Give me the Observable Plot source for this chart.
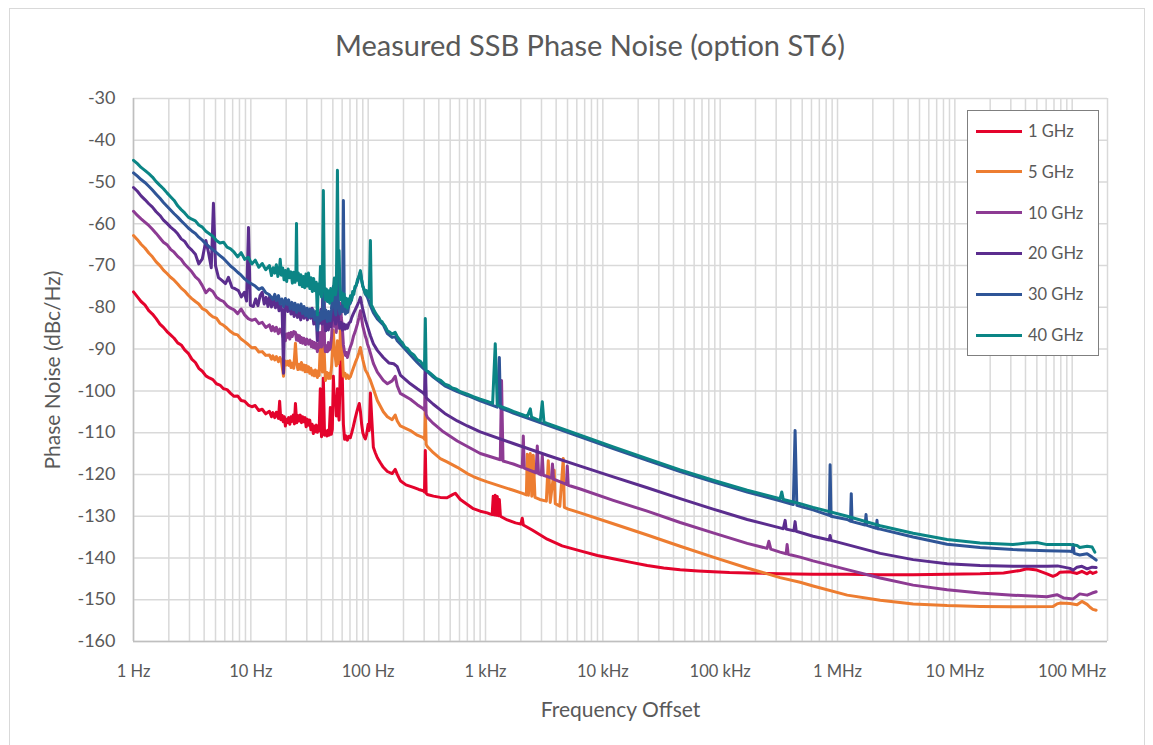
<!DOCTYPE html>
<html>
<head>
<meta charset="utf-8">
<script src="https://cdn.jsdelivr.net/npm/d3@7"></script>
<script src="https://cdn.jsdelivr.net/npm/@observablehq/plot@0.6"></script>
<style>
  body { margin: 0; background: #fff; font-family: Lato, "Open Sans", sans-serif; }
  #wrap { position: relative; width: 1153px; height: 745px; overflow: hidden; }
  #frame { position: absolute; left: 9px; top: 8px; width: 1136px; height: 760px; border: 1px solid #d9d9d9; box-sizing: border-box; }
  #chart { position: absolute; left: 0; top: 0; }
  #title { position: absolute; left: 0; top: 27px; width: 1180px; text-align: center; font-size: 29px; color: #595959; }
  #legend { position: absolute; left: 967px; top: 110px; width: 132px; height: 246px; border: 1.5px solid #7f7f7f; background: #fff; box-sizing: border-box; }
  .item { position: absolute; left: 0; height: 20px; width: 130px; }
  .sw { position: absolute; left: 8px; top: 8.5px; width: 46px; height: 3px; }
  .lb { position: absolute; left: 60px; top: 0; font-size: 16.5px; line-height: 20px; color: #595959; }
  g[aria-label="x-axis label"] text, g[aria-label="y-axis label"] text { font-size: 21px; }
</style>
</head>
<body>
<div id="wrap">
  <div id="frame"></div>
  <div id="chart"></div>
  <div id="title">Measured SSB Phase Noise (option ST6)</div>
  <div id="legend"></div>
</div>
<script>
// ---------------- data ----------------
const seriesNames = ["1 GHz", "5 GHz", "10 GHz", "20 GHz", "30 GHz", "40 GHz"];
const seriesColors = ["#e4032c", "#ed7d31", "#8d3b93", "#5b2d8e", "#2f5597", "#0b8585"];

const xTicks = [1, 10, 100, 1e3, 1e4, 1e5, 1e6, 1e7, 1e8];
const xTickLabels = ["1 Hz", "10 Hz", "100 Hz", "1 kHz", "10 kHz", "100 kHz", "1 MHz", "10 MHz", "100 MHz"];
const yTicks = [-160, -150, -140, -130, -120, -110, -100, -90, -80, -70, -60, -50, -40, -30];

// [offset frequency (Hz), phase noise (dBc/Hz)]
const red1GHz = [
  [1,-76.3],[1.08,-77.5],[1.16,-78.6],[1.25,-79.4],[1.35,-80.8],[1.45,-81.6],[1.56,-82.7],[1.68,-84.0],[1.8,-84.8],[1.93,-85.8],
  [2.07,-86.6],[2.22,-87.4],[2.38,-88.5],[2.55,-89.0],[2.73,-90.2],[2.93,-91.0],[3.14,-92.4],[3.37,-93.2],[3.6,-94.6],[3.86,-95.3],
  [4.14,-96.4],[4.43,-96.9],[4.75,-97.3],[5.09,-98.3],[5.45,-98.6],[5.85,-99.5],[6.27,-99.7],[6.72,-100.6],[7.2,-101.3],[7.72,-101.2],
  [8.27,-102.3],[8.86,-102.5],[9.5,-103.4],[10.2,-103.8],[10.9,-103.5],[11.7,-104.7],[12.5,-104.4],[13.4,-105.5],[14.4,-104.9],[15.0,-106.2],
  [15.4,-105.2],[16.0,-106.4],[16.5,-105.1],[17.2,-106.6],[17.6,-102.5],[18.0,-106.9],[18.5,-105.9],[18.9,-107.4],[19.3,-106.2],[19.7,-108.4],
  [20.1,-106.8],[20.5,-107.6],[21.0,-106.4],[21.5,-108.0],[22.0,-106.2],[22.5,-107.3],[23.0,-105.8],[23.5,-107.9],[24.0,-103.0],[24.6,-107.6],
  [25.2,-105.9],[25.8,-107.2],[26.4,-105.8],[27.0,-107.6],[27.6,-106.2],[28.3,-107.4],[29.0,-106.4],[29.6,-108.6],[30.3,-106.8],[31.0,-108.2],
  [31.8,-107.0],[32.5,-109.3],[33.3,-108.0],[34.1,-110.2],[34.8,-108.4],[35.5,-109.8],[36.2,-108.2],[36.9,-109.9],[37.5,-108.4],[38.2,-109.6],
  [39.1,-99.5],[40.0,-111.0],[40.8,-109.4],[41.5,-97.0],[42.5,-110.6],[43.5,-109.6],[44.5,-110.8],[45.5,-109.4],[46.5,-110.6],[47.6,-104.0],
  [48.5,-110.4],[49.5,-109.2],[50.5,-96.5],[51.5,-102.5],[52.5,-101.5],[53.5,-106.0],[54.7,-99.5],[55.5,-104.5],[56.5,-107.0],[57.3,-100.0],
  [58.0,-92.0],[59.0,-99.0],[60.0,-95.0],[61.5,-108.0],[63,-111.6],[64.7,-110.8],[66.5,-111.8],[68.5,-110.9],[70.5,-111.2],[72.5,-110.0],
  [74.8,-108.5],[77.5,-106.6],[80.9,-104.5],[84,-103.0],[86,-105.0],[88,-108.0],[90,-110.0],[92.5,-111.0],[94.7,-111.5],[97,-110.4],
  [100,-108.0],[102,-109.5],[104.5,-100.5],[107,-106.0],[110.7,-113.5],[115,-114.8],[119.7,-116.0],[127,-117.2],[134.6,-118.3],[145.8,-119.3],
  [160,-119.8],[170,-118.8],[177,-120.0],[188,-121.5],[210,-122.5],[243,-123.1],[270,-123.6],[295,-123.9],[302,-124.2],[307,-114.3],
  [312,-124.5],[319,-124.8],[360,-125.2],[412,-125.5],[470,-125.6],[520,-124.9],[553,-124.5],[610,-126.0],[700,-127.2],[787,-128.2],
  [903,-128.8],[1035,-129.2],[1100,-129.5],[1140,-129.6],[1164,-125.2],[1190,-129.7],[1211,-125.0],[1236,-129.8],[1260,-125.3],[1290,-129.9],
  [1312,-126.0],[1340,-130.0],[1400,-130.3],[1534,-130.9],[1800,-131.6],[2000,-131.9],[2058,-130.5],[2100,-132.1],[2500,-133.3],[3359,-135.5],
  [4500,-137.1],[6423,-138.3],[9000,-139.4],[12270,-140.2],[17000,-141.0],[23900,-141.8],[33000,-142.4],[45600,-142.8],[65000,-143.1],[87100,-143.3],
  [120000,-143.5],[170000,-143.6],[250000,-143.7],[324000,-143.8],[619000,-143.9],[1.21e6,-143.9],[2.31e6,-144.0],[4.41e6,-144.0],[8.59e6,-143.9],[1.64e7,-143.8],
  [2.6e7,-143.6],[3.6e7,-143.0],[4.12e7,-142.6],[5.0e7,-142.9],[6.1e7,-143.8],[6.86e7,-144.4],[7.42e7,-144.0],[7.87e7,-143.4],[9.58e7,-143.3],[1.1e8,-143.7],
  [1.21e8,-143.2],[1.34e8,-143.8],[1.42e8,-143.3],[1.5e8,-143.7],[1.6e8,-143.4]
];

const orange5GHz = [
  [1,-62.8],[1.08,-63.8],[1.16,-64.9],[1.25,-65.8],[1.35,-67.0],[1.45,-67.9],[1.56,-69.1],[1.68,-70.0],[1.8,-71.1],[1.93,-71.9],
  [2.07,-72.8],[2.22,-73.5],[2.38,-74.4],[2.55,-75.4],[2.73,-76.1],[2.93,-77.1],[3.14,-77.9],[3.37,-78.6],[3.6,-79.2],[3.86,-80.3],
  [4.14,-80.7],[4.43,-81.6],[4.75,-82.3],[5.09,-82.6],[5.45,-83.8],[5.85,-84.3],[6.27,-85.0],[6.72,-85.8],[7.2,-86.4],[7.72,-86.6],
  [8.27,-87.6],[8.86,-88.2],[9.5,-88.9],[10.2,-89.7],[10.9,-89.6],[11.7,-90.7],[12.5,-90.6],[13.4,-91.5],[14.4,-91.4],[15.0,-92.4],
  [15.4,-91.6],[16.0,-92.6],[16.5,-91.8],[17.2,-93.0],[17.7,-92.0],[18.2,-92.8],[19.0,-96.5],[19.4,-92.8],[20.0,-93.8],[20.5,-92.9],
  [21.0,-93.9],[21.5,-92.8],[22.0,-94.4],[22.5,-93.4],[23.2,-94.6],[24.0,-88.6],[24.6,-93.5],[25.2,-94.9],[25.8,-93.6],[26.4,-94.8],
  [27.0,-93.2],[27.6,-95.0],[28.3,-93.8],[29.0,-95.4],[29.6,-93.9],[30.3,-95.4],[31.0,-94.2],[31.8,-95.8],[32.5,-94.6],[33.3,-96.2],
  [34.1,-95.2],[34.8,-96.4],[35.5,-95.0],[36.2,-96.2],[36.9,-96.8],[37.5,-95.2],[38.2,-96.3],[39.1,-89.0],[40,-92.5],[40.8,-95.5],
  [41.5,-84.0],[42.5,-93.0],[43.2,-97.5],[44.5,-95.6],[45.8,-97.0],[46.7,-95.8],[47.6,-97.0],[48.8,-94.0],[50.5,-85.5],[51.5,-90.5],
  [52.5,-92.0],[53.5,-94.0],[54.7,-88.0],[55.6,-93.5],[56.5,-90.0],[57.3,-92.5],[58.0,-83.9],[59.0,-88.0],[60,-90.0],[61.5,-96.5],
  [63.5,-95.8],[65,-97.0],[66.5,-96.2],[68.5,-97.0],[70.5,-96.6],[72.5,-95.6],[74.8,-94.5],[77.5,-93.3],[80.9,-92.0],[83.5,-90.8],
  [85.9,-89.6],[88,-91.2],[90,-92.5],[92.5,-93.9],[94.7,-95.0],[96.5,-95.4],[98.5,-95.8],[101,-96.6],[104.5,-97.5],[110.7,-99.5],
  [119.7,-102.3],[134.6,-105.0],[145.8,-106.2],[160,-106.9],[170,-105.8],[177,-107.2],[188,-108.4],[229,-109.5],[262,-110.6],[295,-111.2],
  [303,-111.6],[307,-104.0],[312,-112.8],[319,-113.3],[359,-114.8],[412,-116.2],[470,-117.0],[575,-118.3],[700,-119.8],[787,-120.5],
  [903,-121.2],[1035,-121.8],[1336,-122.8],[1726,-123.8],[2099,-124.6],[2230,-124.9],[2270,-115.2],[2320,-125.0],[2409,-115.0],[2480,-125.2],
  [2553,-115.4],[2640,-125.5],[2900,-126.0],[3300,-126.4],[3427,-116.7],[3560,-126.7],[3850,-119.0],[3930,-127.0],[4300,-127.6],[4600,-116.2],
  [4700,-127.9],[5072,-128.3],[6423,-129.2],[12270,-131.8],[23900,-134.5],[45600,-137.2],[87100,-139.8],[170000,-142.4],[324000,-144.7],[480000,-145.8],
  [619000,-146.7],[1.21e6,-148.9],[2.31e6,-150.1],[4.41e6,-151.0],[8.59e6,-151.4],[1.64e7,-151.6],[3.13e7,-151.7],[6.86e7,-151.6],[7.42e7,-151.0],[7.87e7,-150.8],
  [9.58e7,-150.9],[1.1e8,-151.2],[1.21e8,-150.4],[1.34e8,-151.1],[1.42e8,-151.8],[1.5e8,-152.3],[1.6e8,-152.5]
];

const purple10GHz = [
  [1,-57.0],[1.08,-58.0],[1.16,-58.8],[1.25,-59.6],[1.35,-60.4],[1.45,-61.3],[1.56,-62.3],[1.68,-63.4],[1.8,-64.4],[1.93,-65.0],
  [2.07,-66.1],[2.22,-66.8],[2.38,-67.8],[2.55,-68.5],[2.73,-69.7],[2.93,-70.6],[3.14,-71.5],[3.37,-72.7],[3.6,-73.4],[3.86,-74.8],
  [4.14,-76.5],[4.43,-75.6],[4.75,-76.2],[5.09,-77.6],[5.45,-78.2],[5.85,-78.6],[6.27,-79.6],[6.72,-80.2],[7.2,-80.6],[7.72,-81.5],
  [8.27,-80.4],[8.86,-81.8],[9.5,-82.7],[10.2,-83.1],[10.9,-82.8],[11.7,-83.9],[12.5,-83.6],[13.4,-84.8],[14.4,-84.2],[15.0,-85.6],
  [15.4,-84.6],[16.0,-85.7],[16.5,-84.8],[17.2,-86.3],[17.7,-85.2],[18.2,-85.8],[19.0,-87.4],[19.7,-88.0],[20.1,-86.4],[20.5,-87.2],
  [21.0,-86.2],[21.5,-87.6],[22.0,-86.0],[22.5,-87.0],[23.2,-85.8],[24.0,-86.0],[24.5,-87.8],[25.0,-86.6],[25.5,-88.0],[26.0,-86.8],
  [26.5,-88.4],[27.0,-87.2],[27.6,-88.6],[28.3,-87.4],[29.2,-88.9],[30.0,-87.6],[31,-88.8],[31.9,-87.8],[32.8,-89.4],[33.4,-88.2],
  [34.1,-89.6],[34.8,-88.4],[35.5,-89.8],[36.2,-88.6],[36.9,-90.6],[37.5,-88.8],[38.2,-89.6],[39.1,-86.0],[40,-89.5],[40.8,-87.6],
  [41.5,-71.2],[42.5,-88.8],[43.2,-90.6],[44,-89.2],[45,-90.6],[45.8,-88.4],[46.7,-90.2],[47.6,-89.7],[48.8,-87.0],[50.5,-77.6],
  [51.5,-84.5],[52.5,-83.0],[53.5,-86.0],[54.7,-76.5],[55.6,-82.0],[56.5,-85.0],[57.3,-82.0],[58,-79.0],[59,-82.5],[60,-84.0],
  [61.5,-89.0],[62.8,-90.6],[64,-91.5],[65.2,-90.8],[66.5,-92.0],[68.5,-90.6],[70.5,-89.5],[72.5,-88.6],[74.8,-87.0],[77.5,-85.8],
  [80.9,-84.0],[83.5,-82.4],[85.9,-80.8],[88,-82.8],[90,-84.5],[92.5,-85.8],[94.7,-87.0],[96.5,-87.6],[98.5,-88.7],[101,-89.6],
  [104.5,-91.0],[110.7,-93.4],[119.7,-95.5],[134.6,-97.5],[145.8,-98.3],[160,-97.6],[170,-96.5],[177,-98.8],[188,-100.6],[229,-102.0],
  [262,-103.3],[295,-104.3],[303,-104.6],[307,-96.0],[312,-105.6],[319,-106.3],[359,-107.8],[437,-109.8],[575,-112.0],[903,-115.0],
  [1336,-116.5],[1370,-97.5],[1410,-116.8],[1726,-117.5],[2058,-118.3],[2099,-110.8],[2140,-118.5],[2700,-119.6],[2763,-113.2],[2830,-119.8],
  [2990,-120.1],[3048,-115.5],[3110,-120.2],[3359,-120.5],[3650,-120.9],[3720,-117.5],[3800,-121.1],[4900,-122.4],[4977,-118.0],[5072,-122.6],
  [6423,-123.5],[12270,-126.2],[23900,-128.8],[45600,-131.5],[87100,-134.0],[170000,-136.5],[251000,-137.7],[260000,-136.0],[270000,-137.9],[324000,-138.6],
  [365000,-139.0],[372000,-136.8],[380000,-139.1],[480000,-139.8],[619000,-140.7],[1.21e6,-142.8],[2.31e6,-144.8],[4.41e6,-146.5],[8.59e6,-147.6],[1.64e7,-148.4],
  [3.13e7,-148.9],[6.1e7,-149.3],[7.42e7,-148.8],[8.5e7,-149.6],[1.02e8,-149.8],[1.16e8,-148.6],[1.34e8,-148.9],[1.48e8,-148.4],[1.6e8,-148.1]
];

const purple20GHz = [
  [1,-51.3],[1.08,-52.2],[1.16,-53.3],[1.25,-54.2],[1.35,-55.2],[1.45,-56.0],[1.56,-57.1],[1.68,-58.0],[1.8,-59.1],[1.93,-59.9],
  [2.07,-60.8],[2.22,-61.5],[2.38,-62.4],[2.55,-63.6],[2.73,-64.2],[2.93,-65.5],[3.14,-66.3],[3.37,-67.3],[3.6,-69.6],[3.86,-68.4],
  [4.14,-64.0],[4.35,-66.8],[4.6,-70.5],[4.8,-55.1],[5.0,-70.0],[5.3,-72.9],[5.7,-73.6],[6.08,-74.3],[6.44,-72.8],[6.9,-75.2],
  [7.4,-75.6],[7.84,-76.0],[8.3,-77.5],[8.8,-76.4],[9.2,-78.5],[9.55,-60.9],[9.9,-79.5],[10.5,-79.8],[11.0,-78.0],[11.5,-79.6],
  [12.0,-77.2],[12.5,-76.4],[13.0,-79.2],[13.5,-77.6],[14.0,-79.8],[14.5,-77.2],[15.0,-79.9],[15.6,-78.2],[16.2,-80.1],[16.8,-78.4],
  [17.4,-80.8],[18.0,-79.6],[18.5,-81.2],[19.0,-95.8],[19.4,-80.3],[20.0,-79.0],[20.6,-81.0],[21.3,-79.4],[22.0,-81.6],[22.7,-80.0],
  [23.4,-82.2],[24.2,-80.2],[25.0,-82.4],[25.8,-80.6],[26.6,-83.0],[27.5,-81.0],[28.4,-82.6],[29.3,-80.4],[30.3,-83.0],[31.3,-80.8],
  [32.3,-82.6],[33.3,-80.2],[34.4,-84.0],[35.5,-81.6],[36.4,-84.5],[36.9,-88.0],[37.5,-81.5],[38.5,-83.8],[39.5,-80.5],[40.5,-84.0],
  [41.5,-71.7],[42.5,-83.0],[43.5,-85.6],[44.5,-83.0],[45.8,-85.4],[47.0,-82.6],[48.2,-84.6],[49.4,-82.0],[50.5,-78.0],[51.6,-82.8],
  [52.8,-84.0],[54.7,-79.0],[56.0,-83.2],[57.5,-85.0],[59.0,-83.6],[60.5,-85.4],[62.0,-84.0],[63.5,-85.2],[65.0,-84.2],[66.5,-85.0],
  [68.5,-83.8],[70.5,-83.5],[72.5,-82.4],[74.8,-81.5],[77.5,-80.6],[80.9,-79.5],[83.5,-78.6],[85.9,-77.6],[88,-79.2],[90,-80.5],
  [94.7,-83.0],[98.5,-84.5],[104.5,-86.8],[110.7,-88.7],[119.7,-90.3],[134.6,-92.0],[150,-93.3],[165,-93.5],[177,-94.2],[188,-96.2],
  [229,-98.3],[262,-99.5],[295,-100.5],[303,-100.9],[307,-92.5],[312,-101.6],[319,-101.9],[359,-103.2],[450,-105.4],[575,-107.2],
  [700,-108.4],[903,-109.8],[1726,-112.6],[3359,-115.4],[6423,-118.0],[12270,-120.6],[23900,-123.2],[45600,-125.8],[87100,-128.3],[170000,-130.8],
  [324000,-132.8],[345000,-133.0],[358000,-131.0],[365000,-133.1],[425000,-133.5],[435000,-131.3],[445000,-133.6],[619000,-134.8],[850000,-135.7],[865000,-134.6],
  [880000,-135.8],[1.21e6,-136.8],[2.31e6,-138.9],[4.41e6,-140.4],[8.59e6,-141.4],[1.64e7,-141.8],[3.13e7,-142.0],[6.1e7,-142.0],[7.5e7,-141.9],[9.58e7,-142.5],
  [1.02e8,-142.9],[1.1e8,-142.2],[1.21e8,-142.0],[1.34e8,-142.6],[1.48e8,-142.2],[1.6e8,-142.3]
];

const blue30GHz = [
  [1,-47.8],[1.08,-48.6],[1.16,-49.4],[1.25,-50.1],[1.35,-51.0],[1.45,-51.9],[1.56,-52.9],[1.68,-53.9],[1.8,-54.9],[1.93,-55.8],
  [2.07,-56.7],[2.22,-57.6],[2.38,-58.4],[2.55,-59.3],[2.73,-60.1],[2.93,-61.0],[3.14,-61.7],[3.37,-62.3],[3.6,-63.2],[3.86,-63.9],
  [4.14,-64.8],[4.43,-65.5],[4.75,-66.2],[5.09,-66.9],[5.45,-67.6],[5.85,-68.3],[6.27,-69.2],[6.72,-70.1],[7.2,-70.8],[7.72,-71.6],
  [8.27,-72.3],[8.86,-73.2],[9.5,-73.9],[10.2,-74.4],[10.9,-74.9],[11.7,-75.7],[12.5,-75.3],[13.4,-76.5],[14.4,-77.0],[15.4,-78.1],
  [16.0,-76.9],[16.5,-78.4],[17.2,-77.2],[17.8,-79.2],[18.4,-78.0],[19.0,-79.8],[19.7,-77.9],[20.4,-79.3],[21.0,-78.2],[21.7,-80.4],
  [22.4,-78.8],[23.1,-80.6],[23.8,-79.0],[24.5,-81.2],[25.2,-79.4],[26.0,-80.8],[26.8,-79.2],[27.6,-81.5],[28.4,-79.8],[29.3,-82.0],
  [30.2,-80.2],[31.1,-82.4],[32.0,-80.4],[33.0,-82.2],[34.0,-80.6],[35.0,-83.0],[36.0,-81.0],[37.0,-85.5],[38.0,-81.6],[39.0,-83.2],
  [40.0,-80.8],[41.0,-82.8],[41.5,-73.0],[42.2,-82.6],[43.5,-80.6],[44.8,-83.4],[46.0,-81.0],[47.3,-83.2],[48.6,-80.5],[50.5,-75.0],
  [51.8,-80.2],[53.0,-81.8],[54.7,-70.0],[56.0,-79.8],[57.5,-81.6],[59.0,-79.8],[60.5,-81.0],[61.5,-54.4],[62.6,-80.2],[64.0,-81.6],
  [65.5,-79.8],[67.0,-81.2],[68.5,-79.4],[70.5,-79.0],[72.5,-77.8],[74.8,-76.5],[77.5,-75.3],[80.9,-74.0],[83.5,-72.6],[85.9,-71.5],
  [88,-73.4],[90,-74.8],[92.5,-75.9],[94.7,-76.8],[98.5,-77.6],[104.5,-79.6],[110.7,-81.3],[119.7,-82.8],[134.6,-84.2],[145.8,-86.3],
  [160,-87.2],[170,-87.0],[177,-88.0],[188,-88.8],[229,-91.4],[262,-93.2],[295,-94.6],[319,-95.4],[359,-96.7],[450,-98.8],
  [575,-100.2],[700,-101.1],[903,-102.4],[1260,-103.9],[1312,-92.0],[1340,-104.1],[1726,-105.3],[3359,-108.2],[6423,-111.0],[12270,-113.8],
  [23900,-116.6],[45600,-119.3],[87100,-121.8],[170000,-124.2],[324000,-126.3],[420000,-127.2],[435000,-109.5],[450000,-127.4],[619000,-128.5],[850000,-129.8],
  [865000,-117.7],[880000,-130.0],[1.21e6,-130.8],[1.29e6,-131.2],[1.31e6,-124.6],[1.33e6,-131.3],[1.72e6,-132.1],[1.75e6,-129.6],[1.78e6,-132.2],[2.14e6,-132.9],
  [2.17e6,-131.0],[2.2e6,-133.0],[2.31e6,-133.1],[4.41e6,-135.0],[8.59e6,-136.7],[1.64e7,-137.5],[3.13e7,-138.0],[6.1e7,-138.3],[9.58e7,-138.4],[1.0e8,-138.5],
  [1.02e8,-136.8],[1.04e8,-138.9],[1.16e8,-139.3],[1.34e8,-139.0],[1.48e8,-139.8],[1.6e8,-140.5]
];

const teal40GHz = [
  [1,-44.8],[1.08,-45.6],[1.16,-46.5],[1.25,-47.2],[1.35,-48.0],[1.45,-48.8],[1.56,-49.9],[1.68,-50.8],[1.8,-51.6],[1.93,-52.6],
  [2.07,-53.5],[2.22,-54.4],[2.38,-55.7],[2.55,-56.6],[2.73,-57.4],[2.93,-58.4],[3.14,-58.9],[3.37,-59.3],[3.6,-60.3],[3.86,-60.8],
  [4.14,-61.8],[4.43,-62.4],[4.75,-63.0],[5.09,-64.0],[5.45,-64.6],[5.85,-64.4],[6.27,-65.6],[6.72,-66.0],[7.2,-66.8],[7.72,-67.9],
  [8.27,-66.9],[8.86,-68.5],[9.5,-68.0],[10.2,-69.6],[10.9,-68.7],[11.7,-70.4],[12.5,-69.5],[13.4,-71.0],[14.4,-70.0],[15.0,-72.4],
  [15.5,-70.5],[16.0,-71.8],[16.5,-69.8],[17.0,-72.6],[17.5,-71.0],[17.8,-68.5],[18.2,-72.3],[18.7,-70.6],[19.2,-73.4],[19.7,-71.2],
  [20.2,-73.8],[20.8,-70.8],[21.4,-72.9],[22.0,-71.5],[22.6,-74.2],[23.2,-71.6],[23.8,-74.0],[24.2,-72.5],[24.5,-59.9],[24.8,-73.5],
  [25.4,-71.8],[26.0,-74.6],[26.7,-72.2],[27.4,-75.0],[28.1,-72.6],[28.8,-75.3],[29.5,-72.0],[30.3,-74.9],[31.0,-71.8],[31.8,-75.5],
  [32.6,-72.9],[33.4,-76.2],[34.3,-73.1],[35.2,-76.0],[36.1,-74.0],[36.9,-81.8],[37.6,-74.5],[38.5,-76.8],[39.2,-70.2],[40.0,-77.5],
  [40.7,-74.0],[41.5,-52.0],[42.3,-75.2],[43.2,-78.2],[44.0,-75.6],[45.0,-78.6],[46.0,-76.0],[47.0,-79.0],[48.0,-75.5],[49.2,-78.4],
  [50.4,-76.2],[51.5,-73.0],[52.6,-77.0],[53.6,-75.5],[54.7,-47.2],[55.6,-70.0],[56.5,-66.4],[57.3,-74.5],[58.5,-78.2],[59.7,-76.5],
  [61.0,-79.0],[62.3,-76.8],[63.6,-79.8],[65.0,-77.8],[66.4,-80.2],[67.8,-78.0],[69.2,-79.2],[70.7,-77.2],[72.2,-78.3],[73.8,-76.2],
  [75.5,-76.9],[77.2,-75.0],[79.0,-74.8],[81.0,-73.4],[83.0,-72.8],[85.9,-71.2],[88.0,-73.6],[90.0,-75.0],[92.5,-75.8],[94.7,-76.8],
  [97.0,-76.0],[99.5,-77.2],[102.0,-77.6],[104.5,-64.0],[106.5,-79.4],[110,-80.2],[113,-80.9],[116,-81.4],[119.7,-82.0],[123,-82.4],
  [127,-83.2],[131,-83.4],[134.6,-84.0],[140,-84.6],[145.8,-85.6],[152,-85.9],[160,-86.4],[170,-86.0],[177,-87.0],[188,-88.0],
  [196,-88.5],[205,-89.5],[215,-89.8],[229,-90.8],[245,-91.4],[262,-92.5],[278,-92.9],[295,-93.9],[302,-94.4],[307,-82.7],
  [312,-95.0],[340,-95.8],[380,-97.0],[415,-97.5],[450,-98.4],[485,-98.7],[520,-99.3],[565,-99.6],[610,-100.2],[700,-100.8],
  [787,-101.4],[903,-102.0],[1035,-102.5],[1150,-103.0],[1211,-88.7],[1260,-103.4],[1534,-104.3],[1726,-104.9],[2270,-106.1],[2409,-104.3],
  [2470,-106.3],[2931,-107.2],[3048,-102.6],[3150,-107.5],[3359,-107.8],[6423,-110.6],[12270,-113.4],[23900,-116.2],[45600,-118.9],[87100,-121.4],
  [170000,-123.8],[324000,-125.8],[335000,-124.2],[345000,-126.0],[480000,-127.0],[619000,-127.9],[1.21e6,-130.0],[2.31e6,-132.3],[4.41e6,-134.1],[8.59e6,-135.6],
  [1.64e7,-136.4],[3.13e7,-136.8],[4.12e7,-136.4],[5.01e7,-136.3],[6.1e7,-136.8],[9.58e7,-136.8],[1.1e8,-137.0],[1.16e8,-137.5],[1.34e8,-137.2],[1.48e8,-137.4],
  [1.56e8,-138.6]
];

const seriesData = [red1GHz, orange5GHz, purple10GHz, purple20GHz, blue30GHz, teal40GHz];

// ---------------- chart ----------------
const rows = seriesData.flatMap((arr, i) => arr.map(([f, v]) => ({f, v, s: seriesNames[i]})));
const gridX = d3.range(0, 9).flatMap(e => d3.range(1, 10).map(k => k * 10 ** e)).filter(v => v <= 2.0001e8);

const chart = Plot.plot({
  width: 1153,
  height: 745,
  marginLeft: 133,
  marginRight: 46,
  marginTop: 98,
  marginBottom: 104,
  style: {fontFamily: "Lato, 'Open Sans', sans-serif", fontSize: "16px", color: "#595959", background: "transparent", overflow: "visible"},
  x: {type: "log", domain: [1, 2e8]},
  y: {domain: [-160, -30]},
  color: {domain: seriesNames, range: seriesColors},
  marks: [
    Plot.ruleX(gridX, {stroke: "#d9d9d9", strokeWidth: 1.5}),
    Plot.ruleY(yTicks, {stroke: "#d9d9d9", strokeWidth: 1.5}),
    Plot.ruleX([1], {stroke: "#bfbfbf", strokeWidth: 1.5}),
    Plot.ruleY([-160], {stroke: "#bfbfbf", strokeWidth: 1.5}),
    Plot.line(rows, {x: "f", y: "v", z: "s", stroke: "s", strokeWidth: 3, strokeLinejoin: "round", strokeLinecap: "round"}),
    Plot.axisX(xTicks, {tickSize: 0, tickPadding: 24, fontSize: 16.5, tickFormat: d => xTickLabels[xTicks.indexOf(d)],
      label: "Frequency Offset", labelAnchor: "center", labelArrow: "none", labelOffset: 75}),
    Plot.axisY(yTicks, {tickSize: 0, tickPadding: 18, fontSize: 18, tickFormat: d => String(d),
      label: "Phase Noise (dBc/Hz)", labelAnchor: "center", labelArrow: "none", labelOffset: 88})
  ]
});
document.getElementById("chart").appendChild(chart);

// ---------------- legend ----------------
const legend = document.getElementById("legend");
seriesNames.forEach((name, i) => {
  const item = document.createElement("div");
  item.className = "item";
  item.style.top = (10 + i * 40.8) + "px";
  const sw = document.createElement("div");
  sw.className = "sw";
  sw.style.background = seriesColors[i];
  const lb = document.createElement("div");
  lb.className = "lb";
  lb.textContent = name;
  item.appendChild(sw);
  item.appendChild(lb);
  legend.appendChild(item);
});
</script>
</body>
</html>
